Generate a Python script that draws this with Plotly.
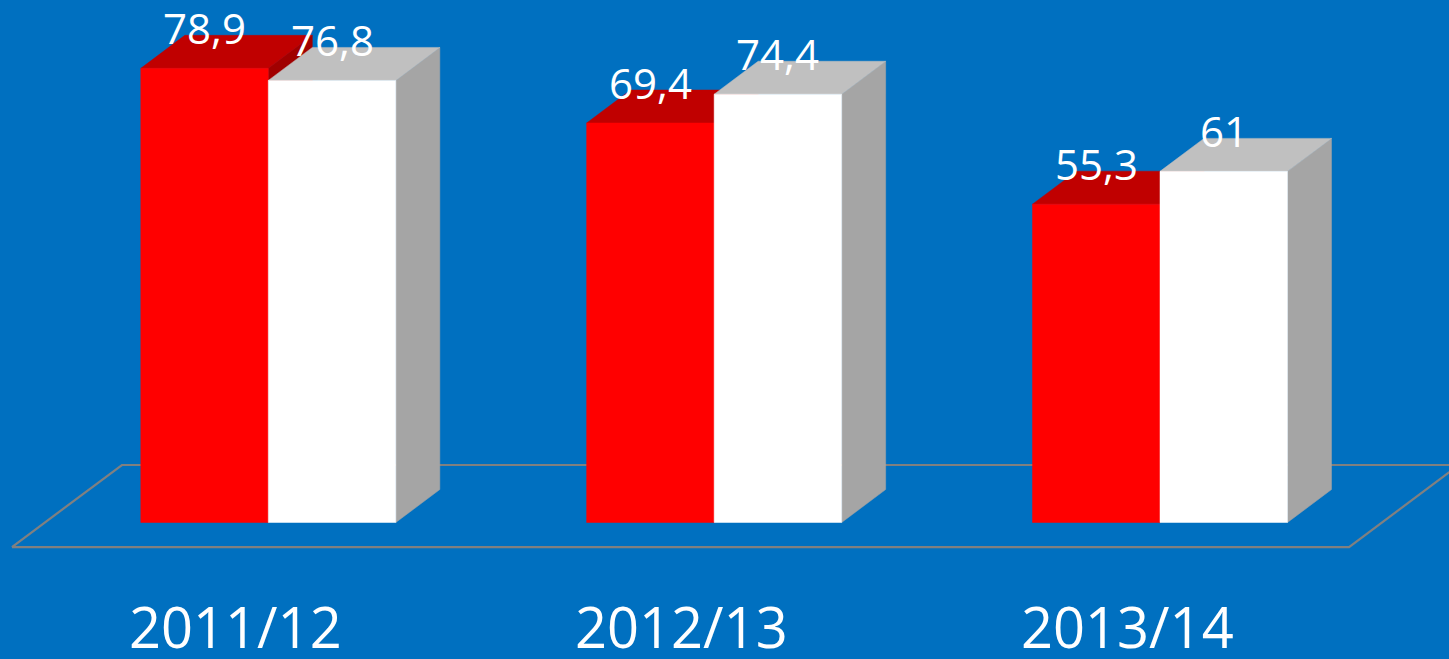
import plotly.graph_objects as go

# ---- data ----
categories = ["2011/12", "2012/13", "2013/14"]
series_red = [78.9, 69.4, 55.3]
series_white = [76.8, 74.4, 61.0]

# ---- geometry / style constants ----
BG = "#0070C0"
BAR_W = 0.286          # bar width in category units
DX = 0.0987            # 3D depth offset (x, category units)
DY = 5.73              # 3D depth offset (y, value units)
RED = dict(front="#FF0000", top="#C00000", side="#A00000")
WHITE = dict(front="#FFFFFF", top="#C0C0C0", side="#A5A5A5")
FLOOR_X0, FLOOR_X1, FLOOR_Y = -0.575, 2.424, -4.26
FLOOR_DX, FLOOR_DY = 0.2467, 14.25
X_RANGE = [-0.6018, 2.6482]
Y_RANGE = [-23.71, 90.77]

fig = go.Figure()

def poly(xs, ys, color):
    fig.add_trace(go.Scatter(
        x=xs + [xs[0]], y=ys + [ys[0]], mode="lines", fill="toself",
        fillcolor=color, line=dict(color=color, width=0.5),
        hoverinfo="skip", showlegend=False))

# floor outline
fx = [FLOOR_X0, FLOOR_X1, FLOOR_X1 + FLOOR_DX, FLOOR_X0 + FLOOR_DX, FLOOR_X0]
fy = [FLOOR_Y, FLOOR_Y, FLOOR_Y + FLOOR_DY, FLOOR_Y + FLOOR_DY, FLOOR_Y]
fig.add_trace(go.Scatter(x=fx, y=fy, mode="lines",
                         line=dict(color="#808080", width=2.2),
                         hoverinfo="skip", showlegend=False))

def bar3d(x0, v, col):
    x1 = x0 + BAR_W
    # side
    poly([x1, x1 + DX, x1 + DX, x1], [0, DY, v + DY, v], col["side"])
    # top
    poly([x0, x1, x1 + DX, x0 + DX], [v, v, v + DY, v + DY], col["top"])
    # front
    poly([x0, x1, x1, x0], [0, 0, v, v], col["front"])

annotations = []
for i, cat in enumerate(categories):
    xr = i - BAR_W
    xw = i
    bar3d(xr, series_red[i], RED)
    bar3d(xw, series_white[i], WHITE)
    for xc, v in ((xr + BAR_W / 2, series_red[i]), (xw + BAR_W / 2, series_white[i])):
        txt = (f"{v:g}").replace(".", ",")
        annotations.append(dict(x=xc, y=v, text=txt, showarrow=False,
                                xanchor="center", yanchor="bottom", yshift=10,
                                font=dict(family="Open Sans", size=42, color="white")))
    annotations.append(dict(x=i - 0.074, y=-17.98, text=cat, showarrow=False,
                            xanchor="center", yanchor="middle",
                            font=dict(family="Open Sans", size=56, color="white")))

fig.update_layout(
    width=1449, height=659, autosize=False,
    margin=dict(l=0, r=0, t=0, b=0, pad=0),
    paper_bgcolor=BG, plot_bgcolor=BG,
    xaxis=dict(range=X_RANGE, visible=False, fixedrange=True),
    yaxis=dict(range=Y_RANGE, visible=False, fixedrange=True),
    annotations=annotations,
    showlegend=False,
)

fig.write_html(
    "out.html",
    config={"displayModeBar": False},
    post_script=(
        "document.body.style.margin='0';document.body.style.padding='0';"
        "document.body.style.overflow='hidden';"
        "document.body.style.background='" + BG + "';"
    ),
)
